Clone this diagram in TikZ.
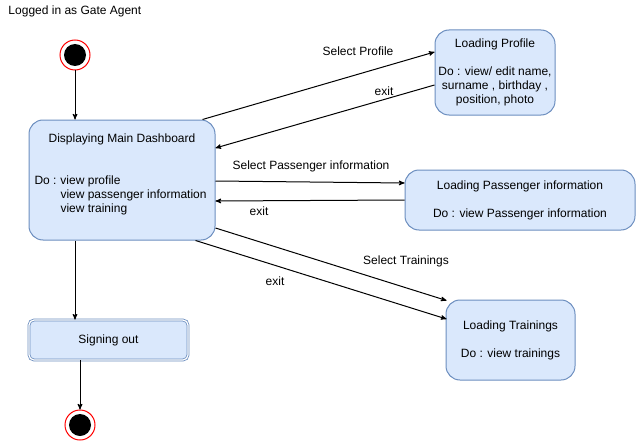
\documentclass[tikz,border=0pt]{standalone}
\usepackage{fontspec}
\setmainfont{Liberation Sans}
\usepackage{xcolor}
\usetikzlibrary{arrows,positioning}
\definecolor{stateFill}{HTML}{DAE8FC}
\definecolor{stateLine}{HTML}{6C8EBF}

\begin{document}
\begin{tikzpicture}[x=1pt,y=-1pt,>=stealth',line width=1pt,
		font=\fontsize{12}{14}\selectfont,
		state node/.style={rectangle,rounded corners=14pt,draw=stateLine,fill=stateFill,align=center,inner sep=0pt},
		exit node/.style={rectangle,rounded corners=5pt,draw=stateLine,fill=stateFill,double=white,double distance=1.2pt,line width=0.8pt,inner sep=0pt},
		dot node/.style={circle,draw=red,fill=white,minimum size=30pt,inner sep=0pt,
			path picture={\fill[black] (path picture bounding box.center) circle (11pt);}},
		text node/.style={inner sep=0pt}]
			\useasboundingbox (0,0) rectangle (636,441);
			% Nodes
			  \node[text node,anchor=west] (title) at (8,11) {Logged in as Gate Agent};
			  \node[dot node] (start) at (75,55) {};
			  \node[state node,minimum width=186pt,minimum height=120pt] (dash) at (122,180) {};
			  \node[text node] (dashName) at (122,139) {Displaying Main Dashboard};
			  \node[text node,anchor=west] (dashDo) at (34,196) {\begin{tabular}{@{}l@{}l@{}}\makebox[26pt][l]{Do :}&view profile\\ &view passenger information\\ &view training\end{tabular}};
			  \node[state node,minimum width=120pt,minimum height=85pt] (profile) at (495,72.5) {Loading Profile\\[14pt]Do : view/ edit name,\\surname , birthday ,\\position, photo};
			  \node[state node,minimum width=230pt,minimum height=60pt] (passenger) at (520,200) {Loading Passenger information\\[14pt]Do : view Passenger information};
			  \node[state node,minimum width=129pt,minimum height=80pt] (trainings) at (510.5,340) {Loading Trainings\\[14pt]Do : view trainings};
			  \node[exit node,minimum width=159pt,minimum height=40pt] (signout) at (108.5,340) {Signing out};
			  \node[dot node] (end) at (80,425) {};
			
			  \node[text node] (selProfile) at (358,51) {Select Profile};
			  \node[text node] (exitProfile) at (384,91) {exit};
			  \node[text node] (selPassenger) at (311,166) {Select Passenger information};
			  \node[text node] (exitPassenger) at (259,211) {exit};
			  \node[text node] (selTrainings) at (406,261) {Select Trainings};
			  \node[text node] (exitTrainings) at (275,281) {exit};
			
			% Edges
			  \draw[->] (start) -- ([xshift=-47pt]dash.north);
			  \draw[->] ([xshift=-13pt]dash.north east) -- ([yshift=20.5pt]profile.west);
			  \draw[->] ([yshift=-12.5pt]profile.west) -- ([yshift=32pt]dash.east);
			  \draw[->] ([yshift=-1pt]dash.east) -- ([yshift=17pt]passenger.west);
			  \draw[->] (passenger.west) -- ([yshift=-21pt]dash.east);
			  \draw[->] ([yshift=-48pt]dash.east) -- ([xshift=1pt,yshift=-1pt]trainings.north west);
			  \draw[->] ([xshift=-20pt]dash.south east) -- ([xshift=1pt,yshift=21pt]trainings.west);
			  \draw[->] ([xshift=-47pt]dash.south) -- ([xshift=-33.5pt]signout.north);
			  \draw[->] ([xshift=-28.5pt]signout.south) -- (end);
			\end{tikzpicture}
\end{document}
